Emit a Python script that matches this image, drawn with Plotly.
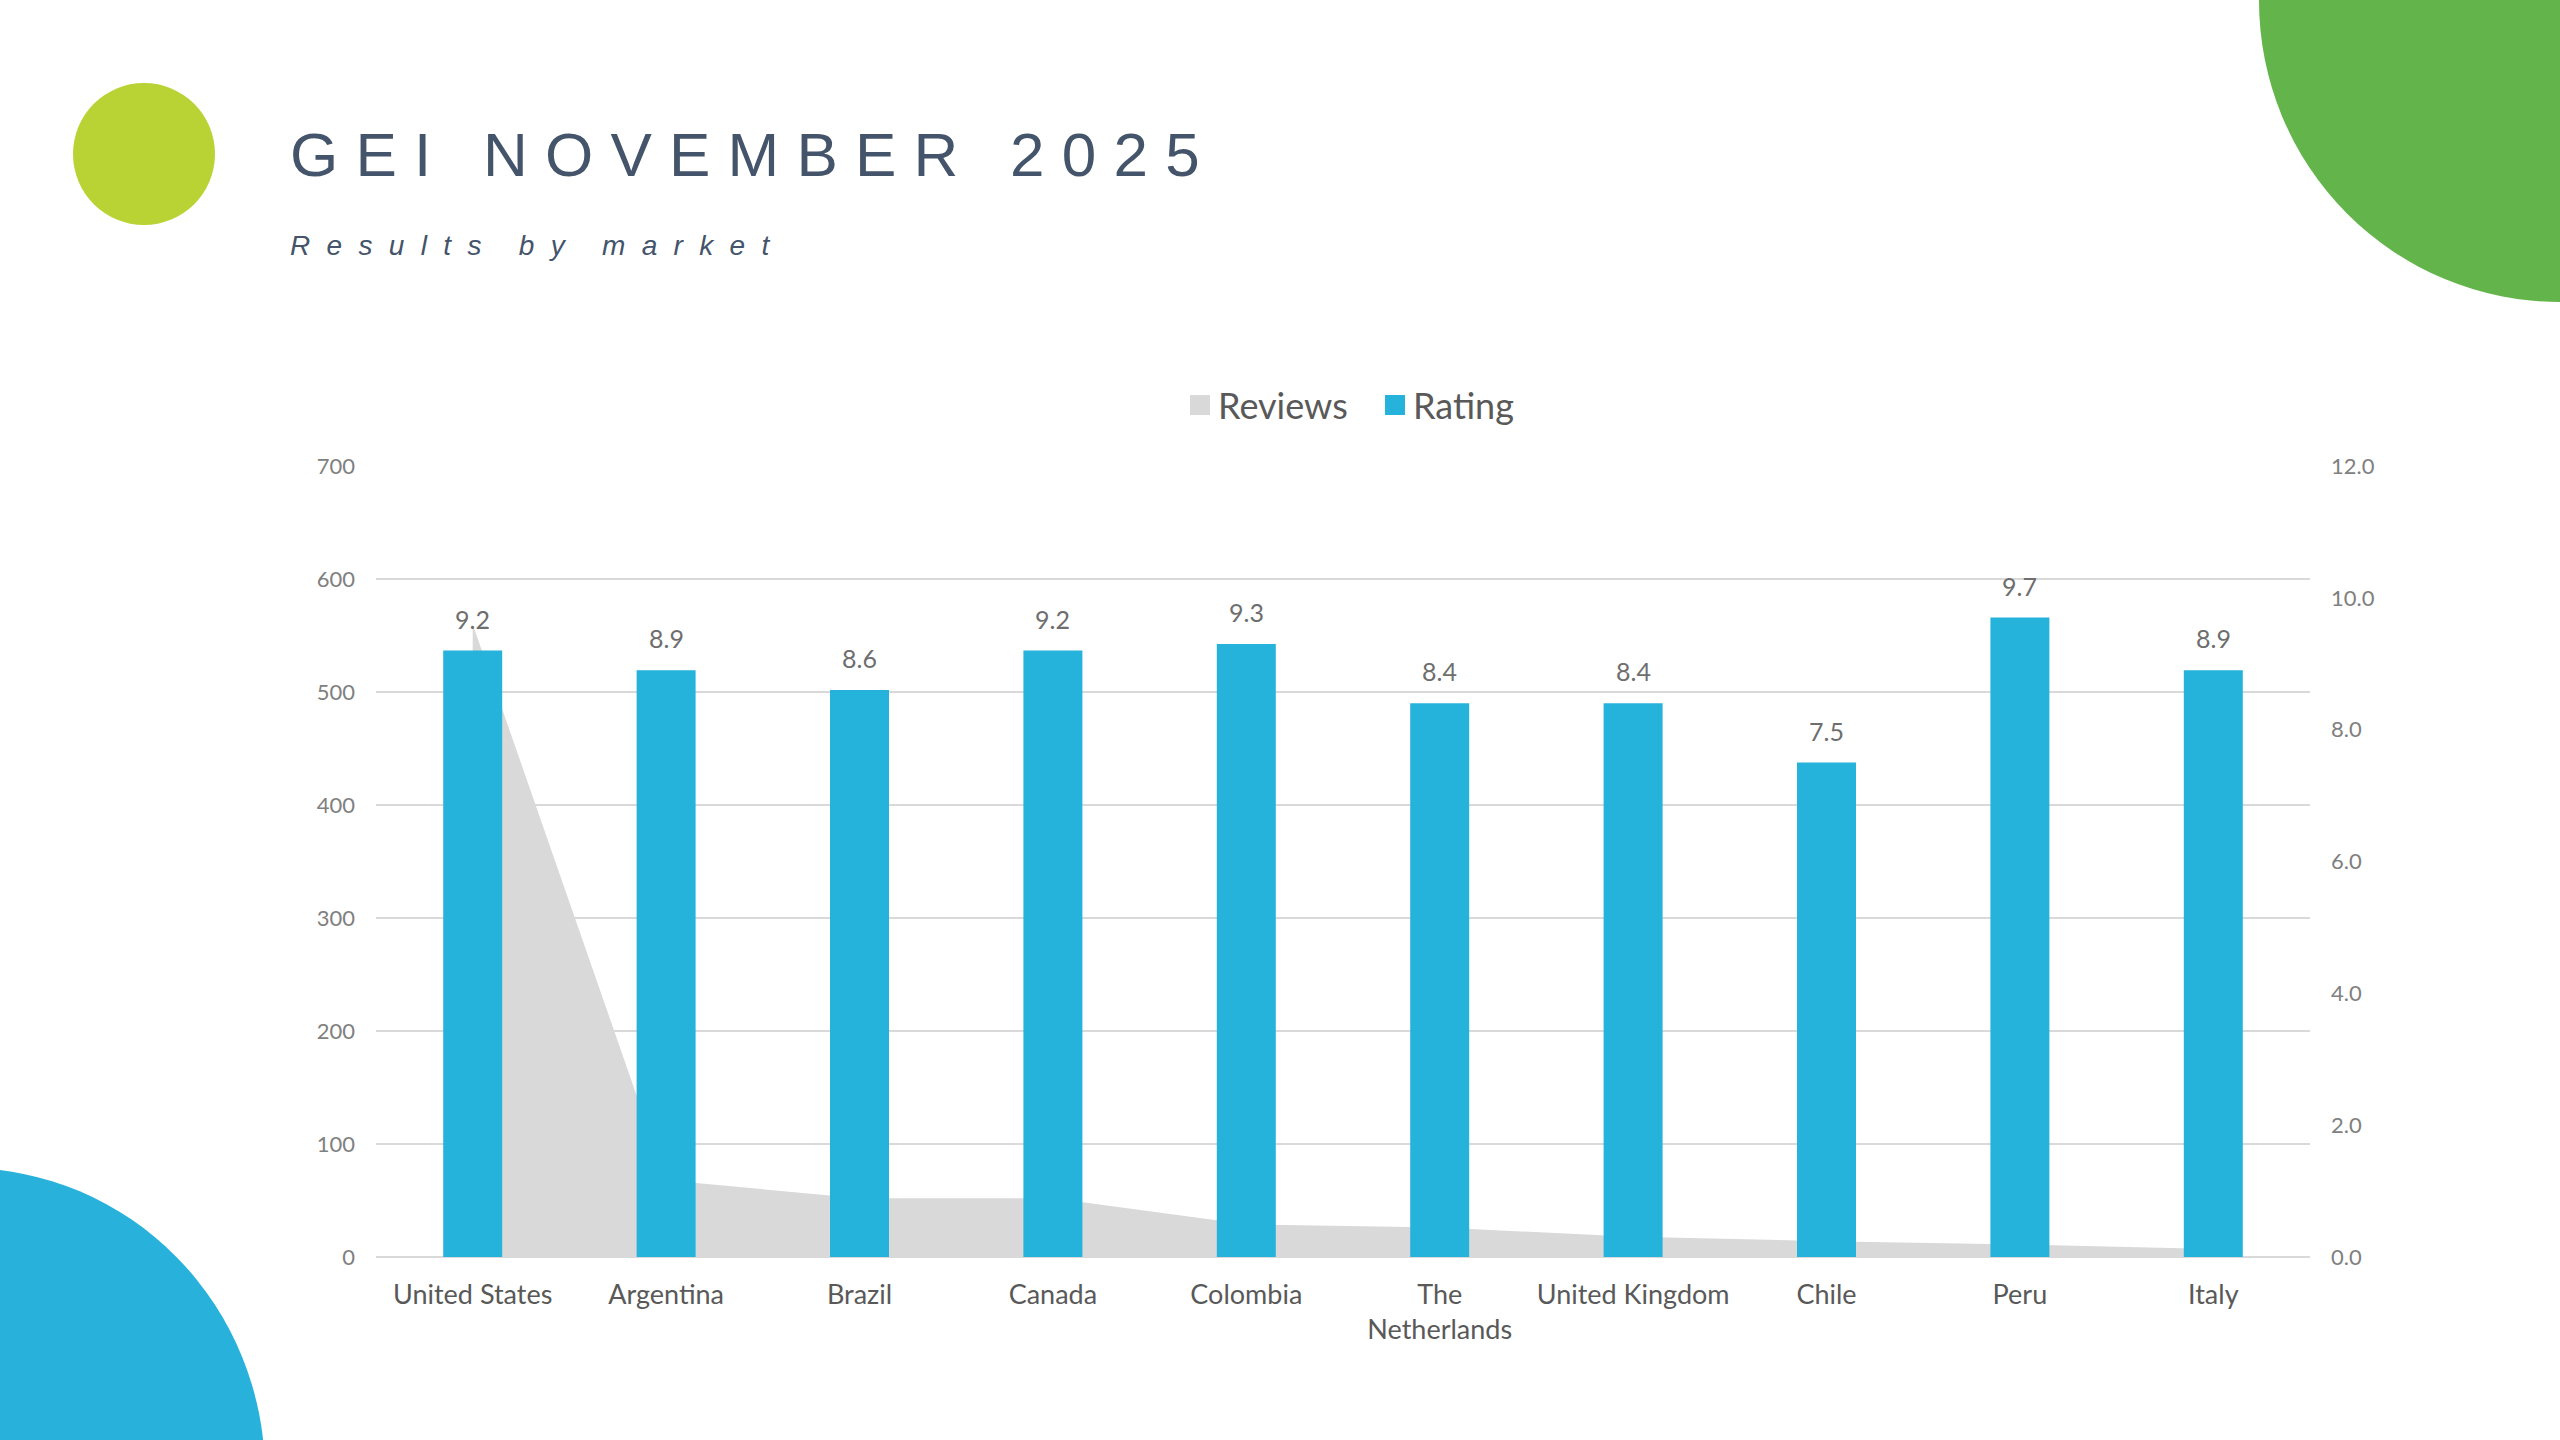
import plotly.graph_objects as go

# ---------------- data ----------------
markets = ["United States", "Argentina", "Brazil", "Canada", "Colombia",
           "The Netherlands", "United Kingdom", "Chile", "Peru", "Italy"]
market_tick_labels = ["United States", "Argentina", "Brazil", "Canada", "Colombia",
                      "The<br>Netherlands", "United Kingdom", "Chile", "Peru", "Italy"]
reviews = [560, 68, 52, 52, 29, 26, 18, 14, 11, 7]
rating = [9.2, 8.9, 8.6, 9.2, 9.3, 8.4, 8.4, 7.5, 9.7, 8.9]
left_ticks = [0, 100, 200, 300, 400, 500, 600, 700]
right_ticks = [0, 2, 4, 6, 8, 10, 12]
series_names = ["Reviews", "Rating"]
title_text = "GEI NOVEMBER 2025"
subtitle_text = "Results by market"

# ---------------- styling ----------------
W, H = 2560, 1440
L, R, T, B = 376, 2310, 466, 1257  # plot area in pixels
GRAY_AREA = "#D9D9D9"
BLUE = "#25B2DB"
TITLE_COL = "#44546A"
TXT = "#595959"
TICK = "#808080"
CHART_FONT = "Lato"


def px(x):
    return (x - L) / (R - L)


def py(y):
    return (B - y) / (B - T)


def spaced(s, gap="\u00a0", word_gap="\u00a0\u00a0\u00a0"):
    words = s.split(" ")
    return word_gap.join(gap.join(list(w)) for w in words)


fig = go.Figure()

fig.add_trace(go.Scatter(
    x=markets, y=reviews, name=series_names[0], mode="lines",
    line=dict(width=0, color=GRAY_AREA), fill="tozeroy", fillcolor=GRAY_AREA,
    yaxis="y", showlegend=False, hoverinfo="skip"))

fig.add_trace(go.Bar(
    x=markets, y=rating, name=series_names[1], marker=dict(color=BLUE, line=dict(width=0)),
    yaxis="y2", showlegend=False, hoverinfo="skip"))

annotations = []
# data labels above bars
for m, v in zip(markets, rating):
    annotations.append(dict(
        x=m, y=v, xref="x", yref="y2", text=f"{v:.1f}", showarrow=False,
        yanchor="bottom", yshift=15, font=dict(family=CHART_FONT, size=25, color="#6E6E6E")))

# title & subtitle
annotations.append(dict(
    x=px(288), y=py(154), xref="paper", yref="paper", xanchor="left", yanchor="middle",
    text=spaced(title_text), showarrow=False,
    font=dict(family="Liberation Sans", size=62, color=TITLE_COL)))
annotations.append(dict(
    x=px(288), y=py(246), xref="paper", yref="paper", xanchor="left", yanchor="middle",
    text=spaced(subtitle_text, gap="\u2002\u200a", word_gap="\u2002\u2002\u2004"),
    showarrow=False,
    font=dict(family="Liberation Sans", size=28, color=TITLE_COL, style="italic")))

# manual legend
legend_items = [(series_names[0], GRAY_AREA, 1190), (series_names[1], BLUE, 1385)]
shapes = []
for name, col, x0 in legend_items:
    shapes.append(dict(type="rect", xref="paper", yref="paper",
                       x0=px(x0), x1=px(x0 + 20), y0=py(415), y1=py(395),
                       fillcolor=col, line=dict(width=0)))
    annotations.append(dict(x=px(x0 + 26), y=py(405), xref="paper", yref="paper",
                            xanchor="left", yanchor="middle", text=name, showarrow=False,
                            font=dict(family=CHART_FONT, size=36, color=TXT)))

# decorative shapes
shapes.append(dict(type="circle", xref="paper", yref="paper", layer="below",
                   x0=px(73), x1=px(215), y0=py(83), y1=py(225),
                   fillcolor="#B9D335", line=dict(width=0)))
shapes.append(dict(type="circle", xref="paper", yref="paper", layer="below",
                   x0=px(2259), x1=px(2861), y0=py(-301), y1=py(302),
                   fillcolor="#63B44A", line=dict(width=0)))
shapes.append(dict(type="circle", xref="paper", yref="paper", layer="below",
                   x0=px(-335), x1=px(265), y0=py(1168), y1=py(1780),
                   fillcolor="#27B1DB", line=dict(width=0)))

fig.update_layout(
    width=W, height=H,
    margin=dict(l=L, r=W - R, t=T, b=H - B, pad=0),
    paper_bgcolor="white", plot_bgcolor="white",
    bargap=0.695,
    showlegend=False,
    xaxis=dict(type="category", tickmode="array", tickvals=markets, ticktext=market_tick_labels,
               tickfont=dict(family=CHART_FONT, size=27, color=TXT),
               showgrid=False, showline=False, zeroline=False, ticks="",
               ticklabelstandoff=19),
    yaxis=dict(range=[0, 700], tickmode="array", tickvals=left_ticks,
               tickfont=dict(family=CHART_FONT, size=22, color=TICK),
               showgrid=True, gridcolor="#D9D9D9", gridwidth=2,
               zeroline=True, zerolinecolor="#D9D9D9", zerolinewidth=2,
               showline=False, ticks="", ticklabelstandoff=20),
    yaxis2=dict(range=[0, 12], tickmode="array", tickvals=right_ticks, tickformat=".1f",
                overlaying="y", side="right",
                tickfont=dict(family=CHART_FONT, size=22, color=TICK),
                showgrid=False, zeroline=False, showline=False, ticks="",
                ticklabelstandoff=20),
    annotations=annotations,
    shapes=shapes,
)

fig.write_html("out.html", config={"displayModeBar": False},
               post_script="document.body.style.margin='0';document.body.style.overflow='hidden';")
